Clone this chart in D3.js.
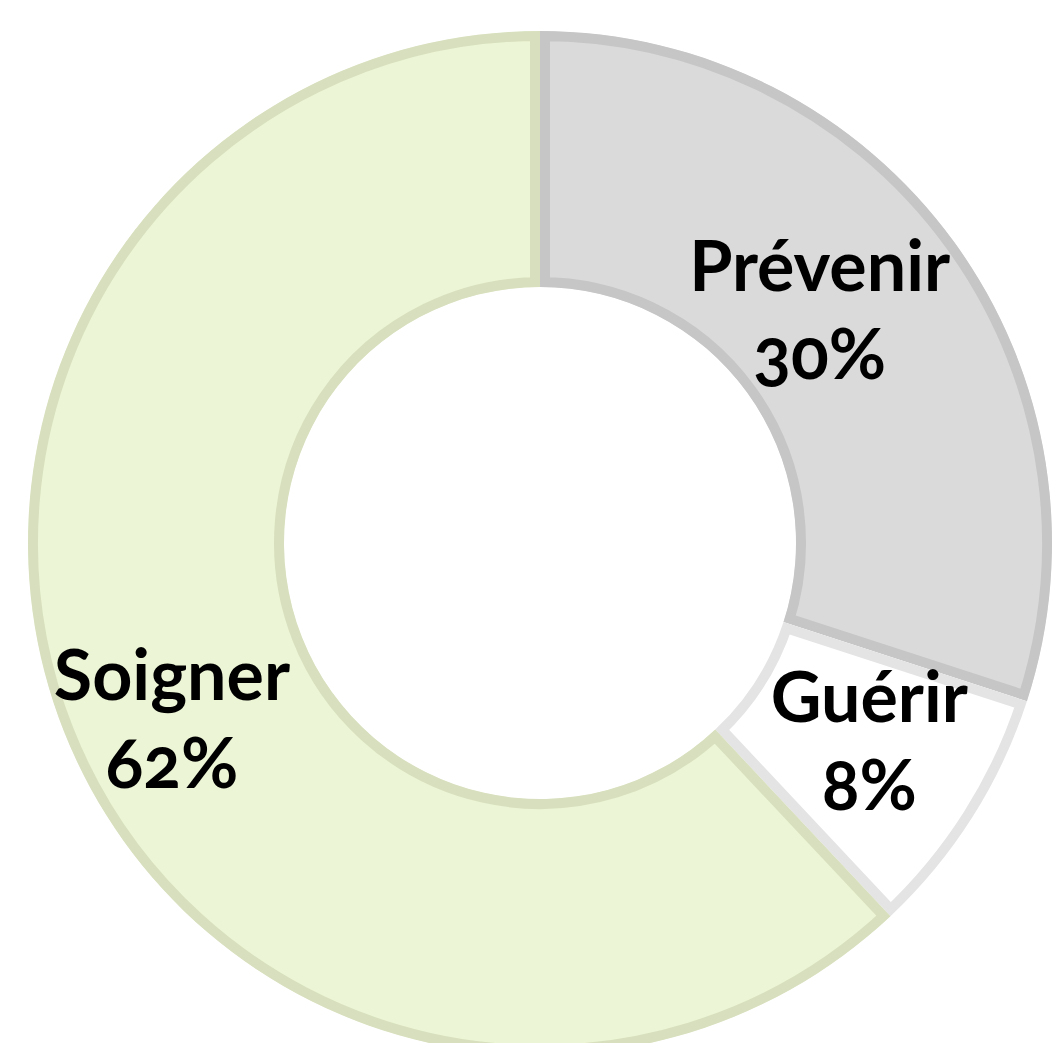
<!DOCTYPE html>
<html>
<head>
<meta charset="utf-8">
<script src="https://cdn.jsdelivr.net/npm/d3@7"></script>
<style>
    html, body { margin: 0; padding: 0; background: #ffffff; }
    svg text {
        font-family: Lato, "Open Sans", sans-serif;
        font-weight: bold;
        font-variant-numeric: oldstyle-nums;
    }
</style>
</head>
<body>
<div id="chart"></div>
<script>
// data
const labels = ["Prévenir", "Guérir", "Soigner"];
const values = [30, 8, 62];
const fills = ["#dadada", "#ffffff", "#ecf5d5"];
const strokes = ["#c6c6c6", "#e4e4e4", "#d7dfbe"];

// layout constants
const width = 1053;
const height = 1043;
const cx = 540;
const cy = 543;
const outerR = 512;
const innerR = 256;
const edge = 10; // inner stroke thickness
const fontSize = 70;
const lineGap = 88;
// small nudges so labels sit where the reference puts them
const nudge = [[-31, -7], [5, -7], [-11, 35]];

var svg = d3.select("#chart")
    .append("svg")
    .attr("width", width)
    .attr("height", height);

const pie = d3.pie()
    .sort(null)
    .value(d => d);

const arc = d3.arc()
    .innerRadius(innerR)
    .outerRadius(outerR);

const arcs = pie(values);

var g = svg.append("g")
    .attr("transform", "translate(" + cx + "," + cy + ")");

const defs = svg.append("defs");

arcs.forEach(function(d, i) {
    defs.append("clipPath")
        .attr("id", "clip" + i)
        .append("path")
        .attr("d", arc(d));
});

// slices, stroke clipped so it only shows on the inside
g.selectAll("path.slice")
    .data(arcs)
    .enter()
    .append("path")
    .attr("class", "slice")
    .attr("d", arc)
    .attr("clip-path", (d, i) => "url(#clip" + i + ")")
    .style("fill", (d, i) => fills[i])
    .style("stroke", (d, i) => strokes[i])
    .style("stroke-width", edge * 2)
    .style("stroke-linejoin", "miter");

// labels
var label = g.selectAll("text.label")
    .data(arcs)
    .enter()
    .append("text")
    .attr("class", "label")
    .attr("text-anchor", "middle")
    .style("font-size", fontSize + "px")
    .style("fill", "#000000")
    .attr("transform", function(d, i) {
        const c = arc.centroid(d);
        return "translate(" + (c[0] + nudge[i][0]) + "," + (c[1] + nudge[i][1]) + ")";
    });

label.append("tspan")
    .attr("x", 0)
    .attr("y", -lineGap / 2 + fontSize * 0.35)
    .text((d, i) => labels[i]);

label.append("tspan")
    .attr("x", 0)
    .attr("y", lineGap / 2 + fontSize * 0.35)
    .text(d => d.data + "%");
</script>
</body>
</html>
